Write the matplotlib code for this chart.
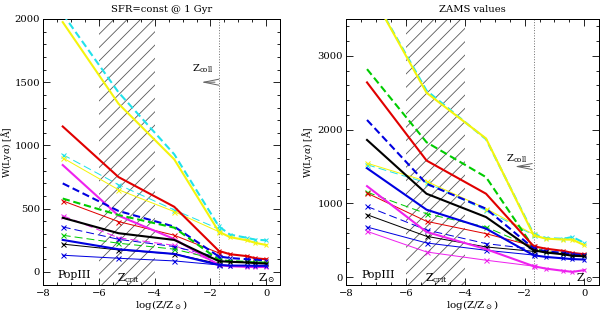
import matplotlib
matplotlib.use('Agg')
import matplotlib.pyplot as plt
from matplotlib.ticker import MultipleLocator
import matplotlib.transforms as mtransforms

plt.rcParams['font.family'] = 'DejaVu Serif'
plt.rcParams['mathtext.fontset'] = 'dejavuserif'
plt.rcParams['hatch.linewidth'] = 0.5
plt.rcParams['hatch.color'] = '0.35'

# model metallicities, log(Z/Zsun); PopIII plotted at -7.3
logz = [-7.3, -5.3, -3.3, -1.7, -1.3, -0.7, -0.4, 0.0]
logz_thin = logz[:4]

# --- SFR=const @ 1 Gyr ---
sfr_cyan = [2040, 1420, 930, 360, 295, 270, 255, 250]
sfr_yellow = [1975, 1330, 890, 318, 275, 250, 230, 213]
sfr_red = [1150, 750, 515, 166, 140, 125, 108, 100]
sfr_magenta = [845, 445, 260, 55, 45, 40, 38, 40]
sfr_blue_d = [700, 482, 358, 122, 110, 100, 95, 90]
sfr_green_d = [580, 450, 350, 95, 85, 80, 75, 74]
sfr_black = [428, 306, 253, 85, 80, 75, 70, 66]
sfr_blue = [253, 179, 142, 55, 50, 50, 48, 48]

sfr_cyan_thin = [928, 690, 490, 340]
sfr_yellow_thin = [902, 650, 477, 318]
sfr_red_thin = [562, 398, 290, 150]
sfr_magenta_thin = [445, 270, 210, 65]
sfr_blue_d_thin = [356, 258, 200, 115]
sfr_green_d_thin = [290, 227, 180, 95]
sfr_black_thin = [220, 174, 142, 65]
sfr_blue_thin = [132, 108, 87, 55]

# --- ZAMS values ---
zams_cyan = [3950, 2530, 1870, 585, 530, 520, 545, 466]
zams_yellow = [3950, 2500, 1880, 568, 523, 510, 509, 435]
zams_red = [2640, 1581, 1131, 419, 387, 356, 329, 311]
zams_green_d = [2820, 1829, 1356, 400, 340, 320, 300, 295]
zams_blue_d = [2131, 1266, 928, 390, 350, 330, 310, 300]
zams_black = [1860, 1131, 815, 365, 335, 310, 290, 284]
zams_blue = [1477, 915, 658, 297, 275, 255, 245, 239]
zams_magenta = [1234, 613, 380, 149, 117, 86, 72, 95]

zams_yellow_thin = [1545, 1300, 930, 580]
zams_cyan_thin = [1525, 1280, 905, 570]
zams_green_d_thin = [1153, 860, 680, 400]
zams_red_thin = [1140, 757, 590, 420]
zams_blue_d_thin = [959, 640, 455, 380]
zams_black_thin = [847, 554, 410, 350]
zams_blue_thin = [680, 464, 365, 300]
zams_magenta_thin = [622, 342, 230, 150]

CYAN = '#22e2ea'
YELLOW = '#f4f40c'
RED = '#e00000'
MAGENTA = '#ee22ee'
BLUE = '#0000e0'
GREEN = '#00cc00'
BLACK = 'k'

thick_dash = (0, (3.5, 1.8))
thin_dash = (0, (8, 4))

fig = plt.figure(figsize=(5, 311 / 120), dpi=120)
ax1 = fig.add_axes([0.072, 0.085, 0.395, 0.854])
ax2 = fig.add_axes([0.577, 0.085, 0.4215, 0.854])

panels = [
    (ax1, 'SFR=const @ 1 Gyr', (-100, 2000), 500, 100,
     [(sfr_cyan, CYAN, thick_dash), (sfr_yellow, YELLOW, '-'), (sfr_red, RED, '-'),
      (sfr_magenta, MAGENTA, '-'), (sfr_blue_d, BLUE, thick_dash),
      (sfr_green_d, GREEN, thick_dash), (sfr_black, BLACK, '-'), (sfr_blue, BLUE, '-')],
     [(sfr_cyan_thin, CYAN, thin_dash), (sfr_yellow_thin, YELLOW, '-'),
      (sfr_red_thin, RED, '-'), (sfr_magenta_thin, MAGENTA, thin_dash),
      (sfr_blue_d_thin, BLUE, thin_dash), (sfr_green_d_thin, GREEN, thin_dash),
      (sfr_black_thin, BLACK, '-'), (sfr_blue_thin, BLUE, '-')], -0.125),
    (ax2, 'ZAMS values', (-100, 3500), 1000, 200,
     [(zams_cyan, CYAN, thick_dash), (zams_yellow, YELLOW, '-'),
      (zams_green_d, GREEN, thick_dash), (zams_red, RED, '-'),
      (zams_blue_d, BLUE, thick_dash), (zams_black, BLACK, '-'),
      (zams_blue, BLUE, '-'), (zams_magenta, MAGENTA, '-')],
     [(zams_cyan_thin, CYAN, thin_dash), (zams_yellow_thin, YELLOW, '-'),
      (zams_green_d_thin, GREEN, thin_dash), (zams_red_thin, RED, '-'),
      (zams_blue_d_thin, BLUE, thin_dash), (zams_black_thin, BLACK, '-'),
      (zams_blue_thin, BLUE, '-'), (zams_magenta_thin, MAGENTA, '-')], -0.125),
]

for ax, title, ylim, major, minor, thick, thin, ylab_x in panels:
    ax.set_xlim(-8, 0.5)
    ax.set_ylim(*ylim)

    # hatched region of Z_crit
    ax.axvspan(-6, -4, facecolor='none', edgecolor='0.35', hatch='///', lw=0, zorder=1)
    # Z_coll
    ax.axvline(-1.7, color='0.45', ls=':', lw=0.6, zorder=1)
    ax.annotate('', xy=(-2.45, 1500), xytext=(-1.72, 1500),
                arrowprops=dict(arrowstyle='->,head_length=0.9,head_width=0.18',
                                color='0.4', lw=0.6))
    ax.text(-2.28, 1610, r'Z$_{\rm coll}$', fontsize=6, ha='center', va='center')

    for vals, col, ls in thin:
        ax.plot(logz_thin, vals, color=col, ls=ls, lw=0.6, marker='x', ms=3,
                mew=0.6, zorder=3)
    for vals, col, ls in thick:
        ax.plot(logz, vals, color=col, ls=ls, lw=1.25, marker='x', ms=2.8,
                mew=0.6, markevery=slice(3, None), zorder=4)

    trans = mtransforms.blended_transform_factory(ax.transData, ax.transAxes)
    ax.text(-7.5, 0.035, 'PopIII', fontsize=6.5, ha='left', va='center',
            transform=trans)
    ax.text(-5.35, 0.025, r'Z$_{\rm crit}$', fontsize=6.5, ha='left', va='center',
            transform=trans)
    ax.text(0.0, 0.025, r'Z$_\odot$', fontsize=6.5, ha='center', va='center',
            transform=trans)

    ax.set_title(title, fontsize=6, pad=4)
    ax.set_xlabel(r'log(Z/Z$_\odot$)', fontsize=6.2, labelpad=0)
    ax.set_ylabel(r'W(Ly$\alpha$) [$\rm\AA$]', fontsize=5.5)
    ax.yaxis.set_label_coords(ylab_x, 0.5)

    ax.xaxis.set_major_locator(MultipleLocator(2))
    ax.xaxis.set_minor_locator(MultipleLocator(0.5))
    ax.yaxis.set_major_locator(MultipleLocator(major))
    ax.yaxis.set_minor_locator(MultipleLocator(minor))
    ax.tick_params(which='both', direction='in', top=True, right=True,
                   labelsize=6, width=0.5, pad=2.5)
    ax.tick_params(axis='y', which='both', pad=2)
    ax.tick_params(which='major', length=4)
    ax.tick_params(which='minor', length=2)
    for sp in ax.spines.values():
        sp.set_linewidth(0.6)

fig.savefig('out.png', dpi=120)
